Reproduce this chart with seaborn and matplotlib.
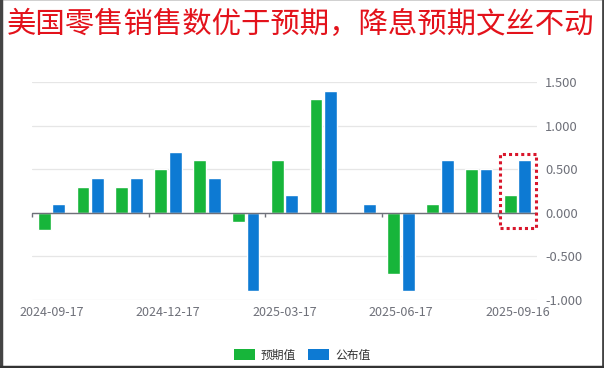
import numpy as np
import pandas as pd
import matplotlib
matplotlib.use("Agg")
import matplotlib.pyplot as plt
import seaborn as sns
from matplotlib.patches import Rectangle, Patch
from matplotlib.lines import Line2D

dates = ["2024-09-17", "2024-10-17", "2024-11-15", "2024-12-17", "2025-01-16",
         "2025-02-14", "2025-03-17", "2025-04-16", "2025-05-15", "2025-06-17",
         "2025-07-17", "2025-08-15", "2025-09-16"]
expected = [-0.2, 0.3, 0.3, 0.5, 0.6, -0.1, 0.6, 1.3, 0.0, -0.7, 0.1, 0.5, 0.2]
actual = [0.1, 0.4, 0.4, 0.7, 0.4, -0.9, 0.2, 1.4, 0.1, -0.9, 0.6, 0.5, 0.6]
series_names = ["预期值", "公布值"]
yticks = [-1.0, -0.5, 0.0, 0.5, 1.0, 1.5]
title = "美国零售销售数优于预期，降息预期文丝不动"

green = "#17B53A"
blue = "#0D7AD3"

df = pd.DataFrame({
    "date": dates * 2,
    "value": expected + actual,
    "series": [series_names[0]] * len(dates) + [series_names[1]] * len(dates),
})

sns.set_style("white")
plt.rcParams["font.family"] = ["Noto Sans CJK SC", "DejaVu Sans"]

fig = plt.figure(figsize=(6.04, 3.68), dpi=100)
ax = fig.add_axes([32 / 604, (368 - 300) / 368, (537 - 32) / 604, (300 - 82) / 368])

sns.barplot(data=df, x="date", y="value", hue="series", order=dates,
            hue_order=series_names, palette=[green, blue], width=0.75, gap=0.12,
            ax=ax, legend=False, saturation=1)

n = len(dates)
ax.set_xlim(-0.5, n - 0.5)
ax.set_ylim(yticks[0], yticks[-1])
ax.set_xlabel("")
ax.set_ylabel("")
for s in ax.spines.values():
    s.set_visible(False)

# grid
ax.set_yticks(yticks)
ax.set_yticklabels([f"{v:.3f}" for v in yticks])
ax.yaxis.tick_right()
ax.tick_params(axis="y", length=0, pad=6, labelsize=9.3, labelcolor="#6E7079")
ax.grid(axis="y", color="#E6E6E6", linewidth=0.9)
ax.set_axisbelow(True)

# x labels
lab_idx = list(range(0, n, 3))
ax.set_xticks(lab_idx)
ax.set_xticklabels([dates[i] for i in lab_idx])
ax.tick_params(axis="x", length=0, pad=4, labelsize=9, labelcolor="#6E7079")

# zero axis line with boundary ticks
ax.axhline(0, color="#6E7079", linewidth=1.0, zorder=3)
zero_frac = (0 - yticks[0]) / (yticks[-1] - yticks[0])
sec = ax.secondary_xaxis(zero_frac)
for k, s in sec.spines.items():
    s.set_visible(False)
sec.set_xticks([i - 0.5 for i in lab_idx])
sec.set_xticklabels([])
sec.tick_params(axis="x", length=3, width=1, color="#6E7079", direction="out")

# highlight last group
last = n - 1
rect = Rectangle((last - 0.45, -0.17), 0.92, 0.84, fill=False,
                 edgecolor="#D9162B", linestyle=(0, (1, 1)), linewidth=2.2,
                 zorder=5, clip_on=False)
ax.add_patch(rect)

# legend
handles = [Patch(facecolor=green, edgecolor="none"), Patch(facecolor=blue, edgecolor="none")]
fig.legend(handles, series_names, loc="center", bbox_to_anchor=(0.5, (368 - 355) / 368),
           ncol=2, frameon=False, fontsize=8.5, handlelength=1.8, handleheight=1.0,
           columnspacing=1.0, handletextpad=0.5, labelcolor="#333333")

# title
fig.text(7 / 604, 1 - 24 / 368, title, color="#E3121B", fontsize=21.2,
         ha="left", va="center")

# frame: dark left/right/bottom, light top
ft = fig.transFigure
fig.lines.append(Line2D([0, 1], [0.999, 0.999], transform=ft, color="#C8C8C8", linewidth=1.2))
fig.lines.append(Line2D([0.002, 0.002], [0, 1], transform=ft, color="#444444", linewidth=2.5))
fig.lines.append(Line2D([0.998, 0.998], [0, 1], transform=ft, color="#444444", linewidth=2.0))
fig.lines.append(Line2D([0, 1], [0.003, 0.003], transform=ft, color="#333333", linewidth=2.5))

fig.savefig("out.png", dpi=100)
